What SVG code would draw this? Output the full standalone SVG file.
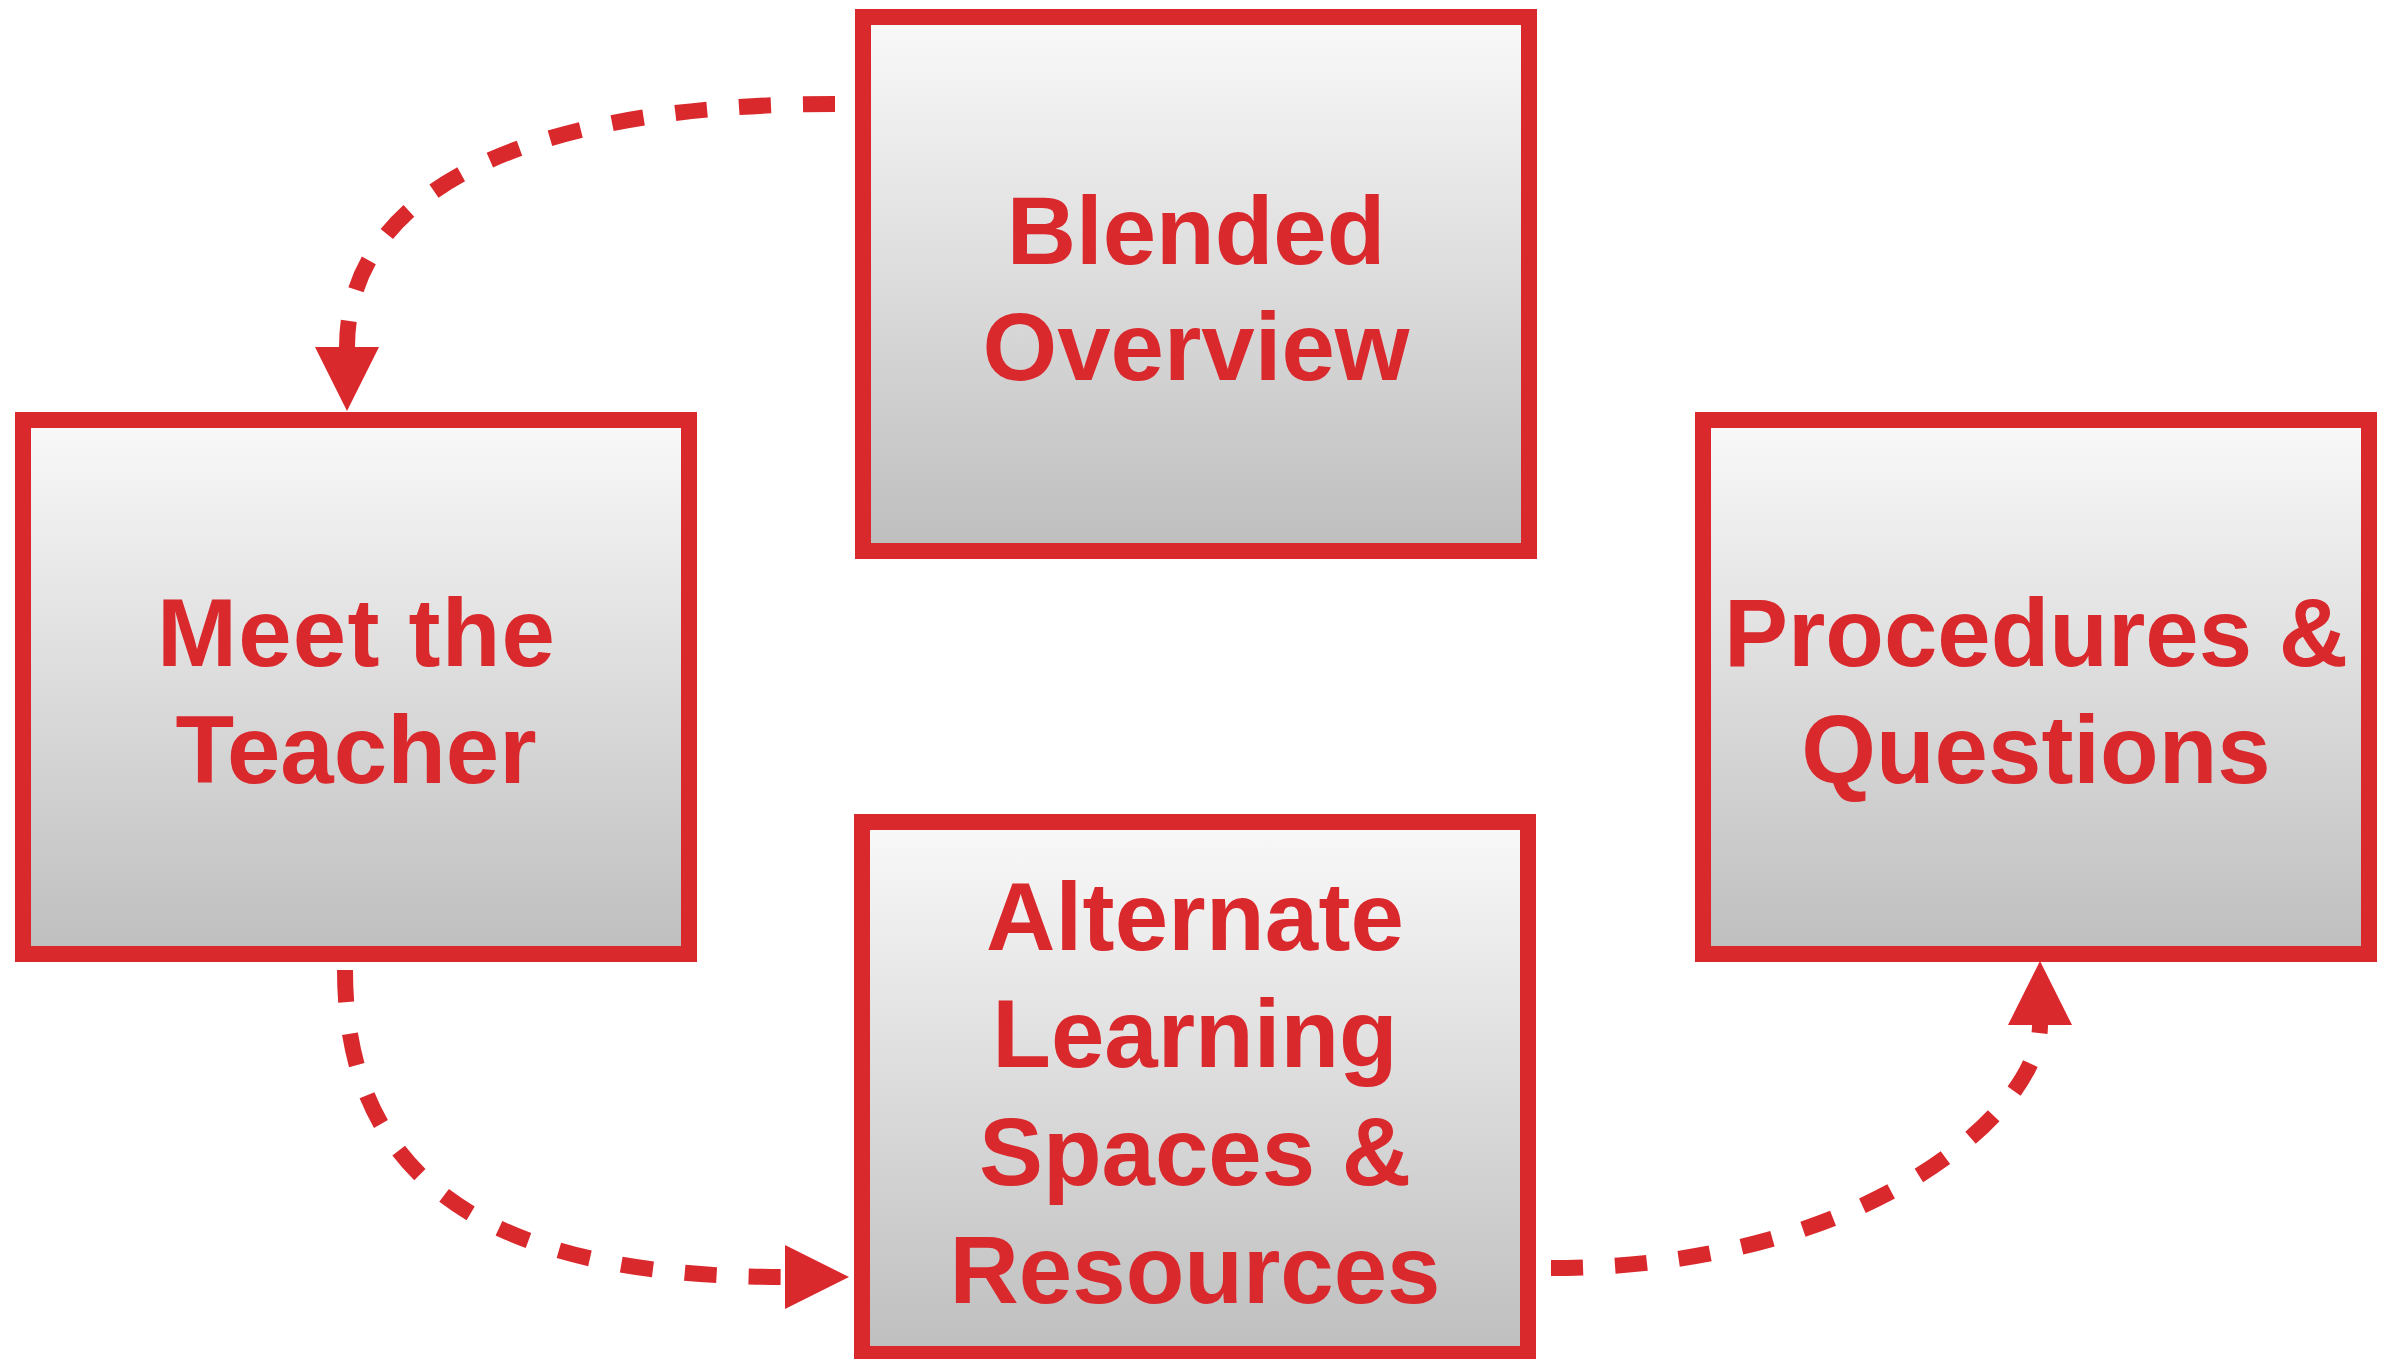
<svg xmlns="http://www.w3.org/2000/svg" width="2389" height="1359" viewBox="0 0 2389 1359">
  <defs>
    <linearGradient id="boxFill" x1="0" y1="0" x2="0" y2="1">
      <stop offset="0" stop-color="#f9f9f9"/>
      <stop offset="1" stop-color="#bebebe"/>
    </linearGradient>
    <marker id="arrow" markerUnits="userSpaceOnUse" markerWidth="64" markerHeight="64" refX="0" refY="32" orient="auto" viewBox="0 0 64 64">
      <path d="M0,0 L64,32 L0,64 Z" fill="#da292d"/>
    </marker>
    <style>
      .box { fill: url(#boxFill); stroke: #da292d; stroke-width: 16; }
      .label { font-family: "Liberation Sans", Arial, Helvetica, sans-serif; font-weight: bold; font-size: 96px; fill: #da292d; text-anchor: middle; }
      .conn { fill: none; stroke: #da292d; stroke-width: 16; stroke-dasharray: 32 32; stroke-linecap: butt; marker-end: url(#arrow); }
    </style>
  </defs>
  <rect width="2389" height="1359" fill="#ffffff"/>

  <g id="connectors">
    <path class="conn" d="M835,104 C526,104 347,191 347,347"/>
    <path class="conn" d="M345,970 C345,1179 486,1277 785,1277"/>
    <path class="conn" d="M1551,1268 C1864,1268 2040,1112 2040,1025"/>
  </g>

  <g id="node-blended">
    <rect class="box" x="863" y="17" width="666" height="534"/>
    <text class="label" x="1196" y="264">Blended</text>
    <text class="label" x="1196" y="380">Overview</text>
  </g>

  <g id="node-meet">
    <rect class="box" x="23" y="420" width="666" height="534"/>
    <text class="label" x="356" y="666" textLength="398" lengthAdjust="spacing">Meet the</text>
    <text class="label" x="356" y="783">Teacher</text>
  </g>

  <g id="node-procedures">
    <rect class="box" x="1703" y="420" width="666" height="534"/>
    <text class="label" x="2036" y="666">Procedures &amp;</text>
    <text class="label" x="2036" y="783">Questions</text>
  </g>

  <g id="node-alternate">
    <rect class="box" x="862" y="822" width="666" height="532"/>
    <text class="label" x="1195" y="950" textLength="418" lengthAdjust="spacing">Alternate</text>
    <text class="label" x="1195" y="1067">Learning</text>
    <text class="label" x="1195" y="1185">Spaces &amp;</text>
    <text class="label" x="1195" y="1303">Resources</text>
  </g>
</svg>
